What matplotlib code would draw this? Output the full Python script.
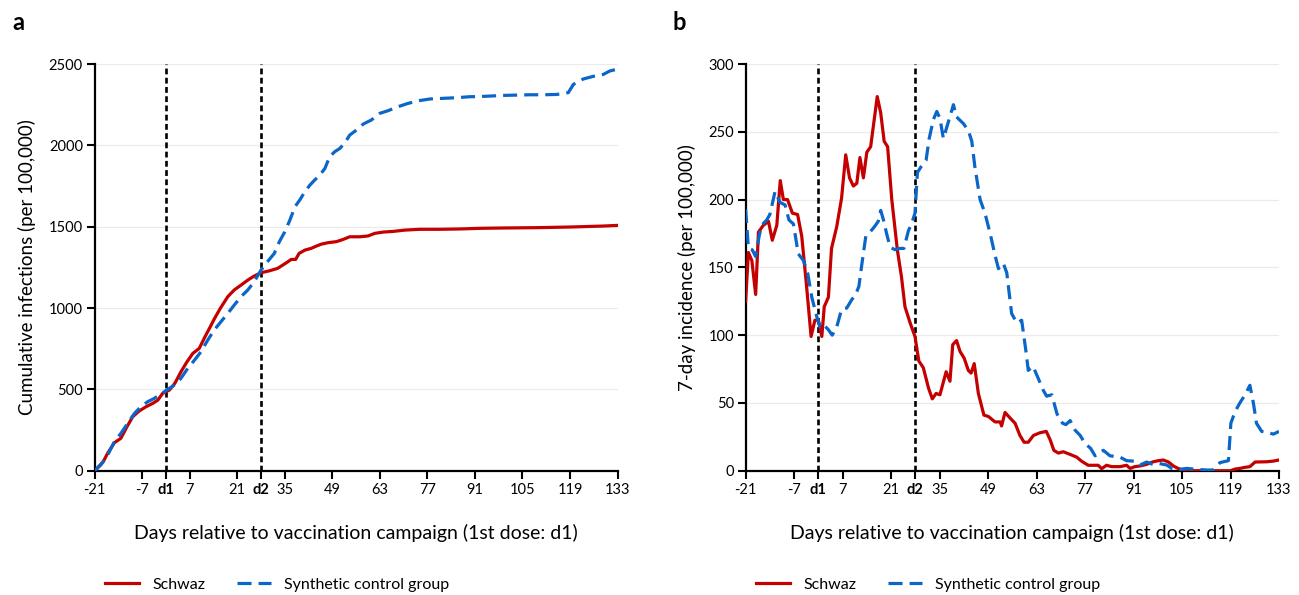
import matplotlib
matplotlib.use("Agg")
import matplotlib.pyplot as plt

plt.rcParams['font.family'] = ['Lato', 'DejaVu Sans']

# ---- data ----
# panel a: cumulative infections (per 100,000)
cum_schwaz_day = [-21, -18.5, -17.2, -15.2, -13.3, -11.5, -9.8, -7.9, -5.9, -3.9, -2.4, -1, 1, 2.6, 4.4,
                  6.2, 7.9, 9.8, 11.5, 12.8, 14.3, 16, 18.2, 20.1, 22.1, 24.1, 26, 28, 30.5, 32.9, 35.5,
                  36.9, 38.2, 39.2, 40.9, 42.8, 44.3, 45.8, 47.8, 50.2, 52.2, 54.1, 57.1, 59.5, 61.5, 64,
                  66.9, 70.3, 74.8, 80.6, 86.6, 92.4, 99.3, 109.1, 119, 128.8, 133]
cum_schwaz = [0, 55, 107, 172, 199, 270, 332, 367, 393, 414, 434, 475, 496, 537, 608,
              670, 721, 752, 824, 875, 936, 998, 1070, 1111, 1141, 1172, 1197, 1217, 1229, 1244, 1279,
              1299, 1299, 1336, 1356, 1367, 1381, 1393, 1402, 1408, 1422, 1438, 1438, 1443, 1459, 1467,
              1471, 1479, 1484, 1484, 1486, 1490, 1492, 1494, 1498, 1504, 1508]

cum_synth_day = [-21, -19.2, -17.2, -15.2, -13.3, -11.3, -9.3, -7.4, -5.4, -3.4, -1.5, 0.5, 2.5, 4.4, 6.4,
                 8.4, 10.3, 12.3, 14.2, 16.2, 18.2, 20.1, 22.1, 24.1, 26, 28, 29.9, 31.9, 33.4, 35, 36.5,
                 38, 39.4, 40.9, 42.4, 43.8, 45.3, 46.8, 48.2, 49.7, 51.2, 52.7, 54.1, 56.1, 58.1, 60.5,
                 63, 65.4, 68.4, 71.3, 74.3, 77.7, 81.6, 85.6, 89.5, 92.4, 95.4, 99.3, 103.3, 107.2,
                 111.1, 115.1, 118.5, 120, 122.9, 125.8, 128.8, 130.7, 133]
cum_synth = [0, 35, 96, 178, 229, 291, 352, 393, 424, 445, 471, 500, 527, 568, 629,
             680, 731, 803, 865, 916, 967, 1018, 1070, 1111, 1162, 1234, 1285, 1336, 1408, 1469, 1541,
             1623, 1664, 1715, 1756, 1787, 1817, 1858, 1930, 1961, 1981, 2016, 2063, 2094, 2131, 2156,
             2197, 2213, 2238, 2258, 2274, 2285, 2289, 2293, 2299, 2300, 2303, 2307, 2309, 2311,
             2311, 2313, 2324, 2375, 2408, 2424, 2436, 2457, 2469]

# panel b: 7-day incidence (per 100,000)
inc_schwaz_day = [-21, -20.2, -19.2, -18.1, -17.3, -15.9, -14.4, -13.3, -12, -11, -10.1, -8.9, -7.5, -6,
                  -4.8, -3.4, -2.1, -1, 0, 1, 1.7, 2.9, 3.8, 5.3, 6.7, 7.9, 9, 10.1, 11.1, 12, 13, 14,
                  15.1, 17, 18, 19, 20, 21.2, 22.8, 24, 25, 26.5, 27.9, 29, 30.3, 31.8, 32.9, 34, 35.1,
                  36.9, 38, 38.8, 39.9, 40.9, 42.1, 43.3, 44.1, 45, 46.2, 47.8, 49.1, 51, 52.5, 52.9,
                  53.9, 55.3, 56.8, 58.2, 59.4, 60.6, 62.1, 64, 65.8, 66.9, 68, 69.3, 70.7, 72.7, 74.6,
                  76, 77.9, 80.8, 81.8, 83.2, 84.7, 87.1, 89, 90, 91.4, 92.9, 94.8, 96.7, 98.2, 99.6,
                  101.1, 102.5, 104, 105.4, 107, 119, 120.3, 121.7, 123.2, 124.6, 126.1, 129.5, 131.4, 133]
inc_schwaz = [125, 161, 155, 130, 176, 181, 184, 170, 181, 214, 200, 200, 190, 189,
              173, 136, 99, 111, 111, 99, 121, 128, 164, 180, 201, 233, 216, 210, 212, 231, 216, 235,
              239, 276, 264, 243, 239, 200, 163, 143, 121, 109, 99, 81, 76, 61, 53, 57, 56,
              73, 66, 93, 96, 88, 83, 74, 72, 79, 57, 41, 40, 36, 36, 33,
              43, 39, 35, 26, 21, 21, 26, 28, 29, 23, 15, 13, 14, 12, 10,
              7, 4, 4, 1.5, 4, 3, 3, 4, 1.7, 3, 3.5, 4.7, 6.6, 7.4, 7.9,
              6.4, 3.5, 1.5, 0.5, 0, 0, 1.2, 1.7, 2.5, 3, 6.4, 6.6, 7.1, 7.9]

inc_synth_day = [-21, -20.2, -19.1, -18.1, -17.1, -16.4, -14.9, -14, -12.5, -11.1, -9.6, -8.5, -7.2, -5.8,
                 -4.3, -3.1, -1.9, -0.5, 0.5, 1.4, 2.9, 4, 5.3, 6.7, 8.2, 9.6, 10.8, 11.7, 12.7, 13.7,
                 14.9, 16.2, 17.3, 18, 18.8, 19.7, 20.7, 22.1, 23.6, 24.7, 26, 26.9, 27.9, 28.6, 29.6,
                 31.1, 32, 33.2, 34.2, 35.1, 36.1, 37.5, 39, 39.9, 41.9, 43.3, 44.3, 45.2, 46.7, 48.1,
                 49.6, 51, 52, 53.4, 54.4, 55.8, 57.3, 58.7, 60, 60.6, 62, 63.5, 64.9, 65.9, 67.4, 68.9,
                 70.5, 71.5, 72.7, 74.1, 75.6, 77, 78.6, 79.9, 81.3, 82.3, 84.2, 87.1, 89, 91.4, 92.9,
                 94.8, 96.2, 98.2, 100.6, 102, 104.4, 106.3, 109.2, 112.1, 114, 116, 118.4, 119.1,
                 120.3, 121.7, 123.2, 124.6, 125.6, 126.5, 128, 129.9, 131.4, 133]
inc_synth = [193, 164, 163, 158, 173, 181, 185, 189, 206, 198, 196, 185, 182, 160,
             155, 146, 128, 114, 106, 108, 104, 100, 106, 119, 120, 126, 130, 136, 155, 173,
             176, 180, 184, 192, 185, 175, 165, 163, 164, 164, 177, 182, 190, 220, 224,
             229, 245, 259, 265, 260, 245, 257, 270, 261, 256, 251, 243, 224, 200, 190,
             175, 159, 149, 153, 146, 116, 109, 111, 87, 74, 77, 68, 59.5, 55, 56, 42,
             35, 34, 37, 30, 26, 20, 16.5, 11, 14, 15, 11, 10, 7.4, 7, 4.2,
             6.4, 5, 5.4, 4.2, 1.7, 1, 1.7, 1, 0.5, 0.5, 6, 7.4, 35,
             43.5, 50, 56, 63, 50, 35, 29, 28, 27, 29]

tick_days = [-21, -7, 0, 7, 21, 28, 35, 49, 63, 77, 91, 105, 119, 133]
tick_labels = ['-21', '-7', 'd1', '7', '21', 'd2', '35', '49', '63', '77', '91', '105', '119', '133']
dose_days = [0, 28]

red = '#c40000'
blue = '#0a66c8'

fig = plt.figure(figsize=(12.99, 5.95), dpi=100)
ax_a = fig.add_axes([0.0729, 0.2089, 0.4025, 0.6835])
ax_b = fig.add_axes([0.574, 0.2089, 0.4106, 0.6835])


def style_axis(ax, ymax, ystep, ylabel):
    ax.set_xlim(-21, 133)
    ax.set_ylim(0, ymax)
    ax.set_yticks(range(0, ymax + 1, ystep))
    ax.set_xticks(tick_days)
    ax.set_xticklabels(tick_labels)
    for lab in ax.get_xticklabels():
        if lab.get_text() in ('d1', 'd2'):
            lab.set_fontweight('bold')
    ax.grid(axis='y', color='#ebebeb', lw=0.9)
    ax.set_axisbelow(True)
    for s in ['top', 'right']:
        ax.spines[s].set_visible(False)
    for s in ['left', 'bottom']:
        ax.spines[s].set_linewidth(1.6)
    ax.tick_params(axis='both', length=5.5, width=1.5, labelsize=10.5, pad=3)
    ax.set_ylabel(ylabel, fontsize=13.5, labelpad=9)
    ax.set_xlabel('Days relative to vaccination campaign (1st dose: d1)', fontsize=14, labelpad=20)
    for d in dose_days:
        ax.axvline(d, color='black', lw=1.9, dashes=(2.2, 1.3), zorder=3)


def draw(ax, x1, y1, x2, y2):
    ax.plot(x1, y1, color=red, lw=2.3, label='Schwaz', zorder=4)
    ax.plot(x2, y2, color=blue, lw=2.3, dashes=(4.4, 2.2), label='Synthetic control group', zorder=4)
    ax.legend(loc='center left', bbox_to_anchor=(0.008, -0.281), ncol=2, frameon=False,
              fontsize=11.5, handlelength=2.1, handletextpad=0.85, columnspacing=2.0, borderaxespad=0)


draw(ax_a, cum_schwaz_day, cum_schwaz, cum_synth_day, cum_synth)
style_axis(ax_a, 2500, 500, 'Cumulative infections (per 100,000)')

draw(ax_b, inc_schwaz_day, inc_schwaz, inc_synth_day, inc_synth)
style_axis(ax_b, 300, 50, '7-day incidence (per 100,000)')

fig.text(12 / 1299, 1 - 22 / 595, 'a', fontsize=17, fontweight='bold', va='center', ha='left')
fig.text(672 / 1299, 1 - 22 / 595, 'b', fontsize=17, fontweight='bold', va='center', ha='left')

fig.savefig('out.png', dpi=100)
